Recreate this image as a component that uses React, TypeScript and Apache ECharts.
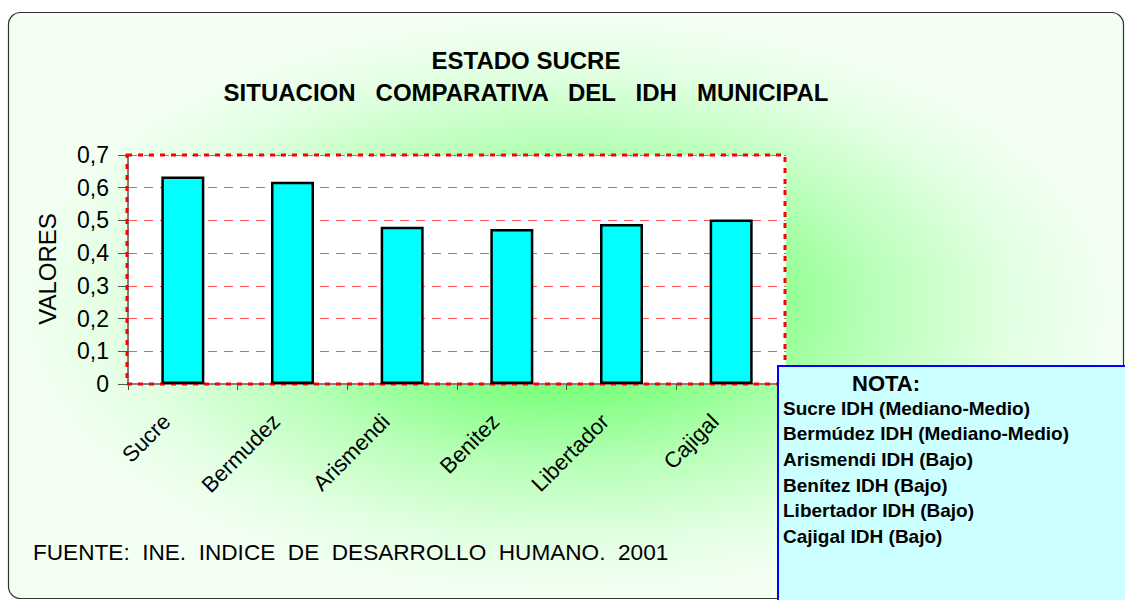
import React, { useEffect, useRef } from "react";
import * as echarts from "echarts";

const categories = ["Sucre", "Bermudez", "Arismendi", "Benitez", "Libertador", "Cajigal"];
const idhValues = [0.634, 0.618, 0.481, 0.474, 0.489, 0.503];
const yTicks = { min: 0, max: 0.7, interval: 0.1 };
const titleLines = ["ESTADO SUCRE", "SITUACION   COMPARATIVA   DEL   IDH   MUNICIPAL"];
const sourceText = "FUENTE:  INE.  INDICE  DE  DESARROLLO  HUMANO.  2001";
const noteTitle = "NOTA:";
const noteLines = [
  "Sucre IDH (Mediano-Medio)",
  "Bermúdez IDH (Mediano-Medio)",
  "Arismendi IDH (Bajo)",
  "Benítez IDH (Bajo)",
  "Libertador IDH (Bajo)",
  "Cajigal IDH (Bajo)",
];
const yAxisName = "VALORES";

const FONT = "'Liberation Sans', Arial, sans-serif";

export default function App() {
  const ref = useRef<HTMLDivElement>(null);
  useEffect(() => {
    if (!ref.current) return;
    const chart = echarts.init(ref.current, undefined, { renderer: "svg" });
    const G = { left: 128, top: 155, width: 658, height: 229 };
    const bgW = 1115, bgH = 586;
    const graphic: any[] = [
      {
        type: "rect",
        z: -20,
        x: 8,
        y: 12,
        scaleY: bgH / bgW,
        shape: { x: 0, y: 0, width: bgW, height: bgW, r: 14 },
        style: {
          fill: new echarts.graphic.RadialGradient(0.5, 0.5, 0.5, [
            { offset: 0, color: "#4dff4d" },
            { offset: 0.3, color: "#80ff80" },
            { offset: 0.55, color: "#b8ffb8" },
            { offset: 0.8, color: "#e2ffe2" },
            { offset: 1, color: "#f4fff4" },
          ]),
        },
        silent: true,
      },
      {
        type: "rect",
        z: -19,
        shape: { x: 8.5, y: 12.5, width: bgW, height: bgH, r: 12 },
        style: { fill: "none", stroke: "#333333", lineWidth: 1.2 },
        silent: true,
      },
      {
        type: "rect",
        z: -10,
        shape: { x: G.left, y: G.top, width: G.width, height: G.height },
        style: { fill: "#ffffff" },
        silent: true,
      },
      {
        type: "rect",
        z: 1,
        shape: { x: G.left - 1, y: G.top, width: G.width, height: G.height },
        style: { fill: "none", stroke: "#ff0000", lineWidth: 3, lineDash: [5, 6] },
        silent: true,
      },
      {
        type: "text",
        z: 5,
        x: 526,
        y: 60,
        style: { text: titleLines[0], font: `bold 24px ${FONT}`, fill: "#000", textAlign: "center", textVerticalAlign: "middle" },
      },
      {
        type: "text",
        z: 5,
        x: 526,
        y: 92,
        style: { text: titleLines[1], font: `bold 24px ${FONT}`, fill: "#000", textAlign: "center", textVerticalAlign: "middle" },
      },
      {
        type: "text",
        z: 5,
        x: 47,
        y: 269,
        rotation: Math.PI / 2,
        style: { text: yAxisName, font: `24px ${FONT}`, fill: "#000", textAlign: "center", textVerticalAlign: "middle" },
      },
      {
        type: "text",
        z: 5,
        x: 33,
        y: 552,
        style: { text: sourceText, font: `22.6px ${FONT}`, fill: "#000", textAlign: "left", textVerticalAlign: "middle" },
      },
      {
        type: "rect",
        z: 10,
        shape: { x: 778, y: 366, width: 360, height: 250 },
        style: { fill: "#ccffff", stroke: "#0000ff", lineWidth: 2 },
        silent: true,
      },
      {
        type: "text",
        z: 11,
        x: 852,
        y: 383,
        style: { text: noteTitle, font: `bold 22px ${FONT}`, fill: "#000", textAlign: "left", textVerticalAlign: "middle" },
      },
      ...noteLines.map((t, i) => ({
        type: "text",
        z: 11,
        x: 783,
        y: 408 + i * 25.7,
        style: { text: t, font: `bold 19px ${FONT}`, fill: "#000", textAlign: "left", textVerticalAlign: "middle" },
      })),
    ];

    chart.setOption({
      animation: false,
      grid: { left: G.left, top: G.top, width: G.width, height: G.height, containLabel: false },
      graphic,
      xAxis: {
        type: "category",
        data: categories,
        boundaryGap: true,
        axisLine: { show: true, lineStyle: { color: "#808080", width: 2 } },
        axisTick: { show: true, alignWithLabel: false, length: 6, lineStyle: { color: "#555", width: 1 } },
        axisLabel: {
          interval: 0,
          rotate: 45,
          margin: 50,
          verticalAlign: "bottom",
          lineHeight: 46,
          color: "#000",
          fontSize: 22,
          fontFamily: FONT,
        },
        splitLine: { show: false },
        z: 0,
      },
      yAxis: {
        type: "value",
        min: yTicks.min,
        max: yTicks.max,
        interval: yTicks.interval,
        axisLine: { show: true, lineStyle: { color: "#808080", width: 2 } },
        axisTick: { show: true, inside: false, length: 10, lineStyle: { color: "#555", width: 1 } },
        axisLabel: {
          margin: 19,
          color: "#000",
          fontSize: 23,
          fontFamily: FONT,
          formatter: (v: number) => (v === 0 ? "0" : v.toFixed(1).replace(".", ",")),
        },
        splitLine: { show: true, lineStyle: { color: "#ff5555", width: 1, type: [9, 7] } },
      },
      series: [
        {
          type: "bar",
          data: idhValues,
          barWidth: 43,
          itemStyle: { color: "#00ffff", borderColor: "#000000", borderWidth: 2.5 },
          z: 3,
        },
      ],
    });
    return () => chart.dispose();
  }, []);
  return (
    <div
      ref={ref}
      style={{ position: "fixed", left: 0, top: 0, width: 1125, height: 600, background: "#ffffff" }}
    />
  );
}
